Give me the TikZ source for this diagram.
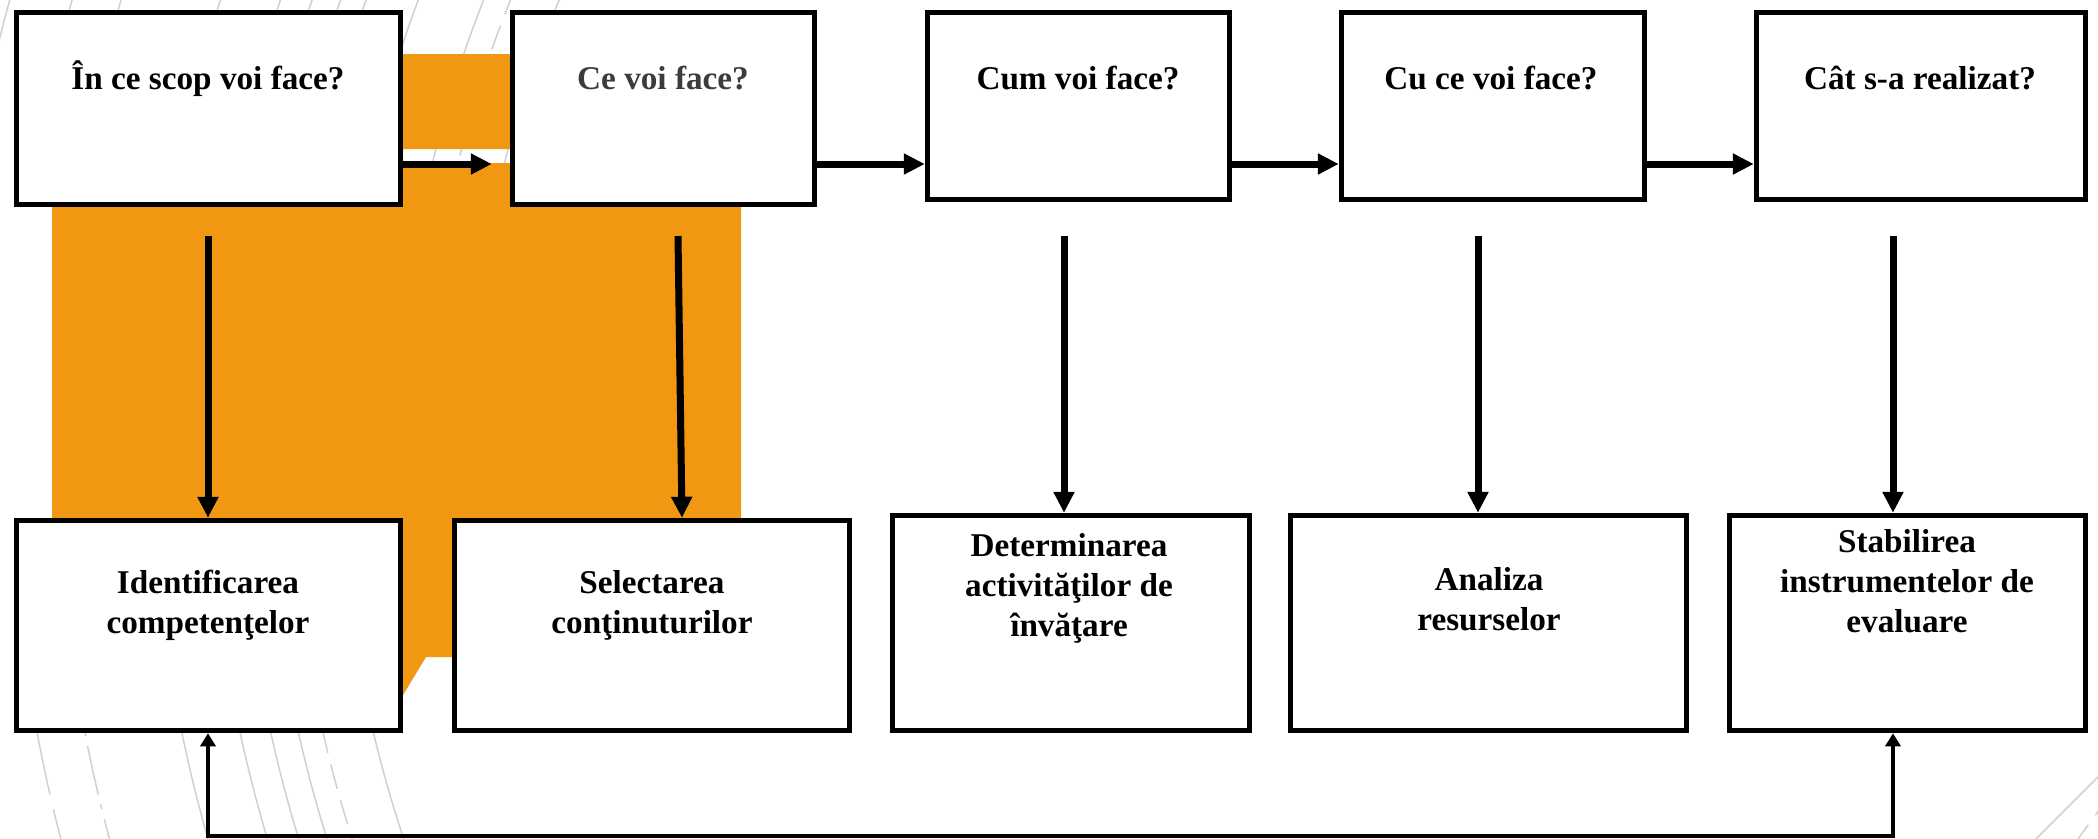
\documentclass[tikz,border=0pt]{standalone}
\usepackage{fontspec}
\setmainfont{Liberation Serif}
\usepackage{tikz}
\usetikzlibrary{calc, arrows.meta}

\definecolor{bubble}{RGB}{241,151,17}
\definecolor{decoline}{RGB}{208,208,208}
\definecolor{softtext}{RGB}{60,60,60}

\tikzset{
	box/.style = {draw, line width = 0.55mm, fill = white, inner sep = 0pt},
	txt/.style = {font = \fontsize{9.45}{11.4}\selectfont\bfseries, align = center, inner sep = 0pt},
	flow/.style = {line width = 0.7mm, -{Triangle[length = 2.1mm, width = 2mm]}},
	back/.style = {line width = 0.45mm, {Triangle[length = 1.3mm, width = 1.5mm]}-{Triangle[length = 1.3mm, width = 1.5mm]}},
	deco/.style = {decoline, line width = 0.15mm}
}

\begin{document}
\begin{tikzpicture}[x = 0.1mm, y = -0.1mm]
	\useasboundingbox (0,0) rectangle (2098,838);
	
	\begin{scope}
		\clip (0,0) rectangle (2098,838);
		\foreach \r in {1448, 1391, 1361, 1334, 1261}
			\draw[deco] (1600,440) ++(150:\r) arc [start angle = 150, end angle = 210, radius = \r];
		\draw[deco] (1600,440) ++(193:1650) arc [start angle = 193, end angle = 210, radius = 1650];
		\draw[deco, dash pattern = on 8mm off 1.5mm] (1600,440) ++(150:1590) arc [start angle = 150, end angle = 170, radius = 1590];
		\draw[deco, dash pattern = on 8mm off 1.5mm] (1600,440) ++(195:1590) arc [start angle = 195, end angle = 210, radius = 1590];
		\draw[deco, dash pattern = on 5mm off 1mm on 0.5mm off 1mm] (1600,440) ++(150:1543) arc [start angle = 150, end angle = 170, radius = 1543];
		\draw[deco, dash pattern = on 5mm off 1mm on 0.5mm off 1mm] (1600,440) ++(195:1543) arc [start angle = 195, end angle = 210, radius = 1543];
		\draw[deco, dash pattern = on 2.5mm off 1.2mm] (1600,440) ++(150:1310) arc [start angle = 150, end angle = 210, radius = 1310];
		\draw[deco] (1600,440) ++(185:1200) arc [start angle = 185, end angle = 210, radius = 1200];
		\draw[deco, dash pattern = on 2.5mm off 1.2mm] (1600,440) ++(185:1175) arc [start angle = 185, end angle = 210, radius = 1175];
		\draw[deco] (1600,440) ++(185:1130) arc [start angle = 185, end angle = 210, radius = 1130];
		\draw[deco] (2110,765) -- (2025,850);
		\draw[deco, dash pattern = on 2.5mm off 1.2mm] (2110,795) -- (2070,850);
	\end{scope}
	
	\fill[bubble, even odd rule] (52,54) -- (741,54) -- (741,657) -- (426,657) -- (388,720) -- (300,657) -- (52,657) -- cycle
		(403,149) rectangle (510,163);
	
	\node[box, minimum width = 38.4mm, minimum height = 19.2mm] (q1) at (208.5,108.5) {};
	\node[box, minimum width = 30.2mm, minimum height = 19.2mm] (q2) at (663.5,108.5) {};
	\node[box, minimum width = 30.2mm, minimum height = 18.7mm] (q3) at (1078.5,106) {};
	\node[box, minimum width = 30.3mm, minimum height = 18.7mm] (q4) at (1493,106) {};
	\node[box, minimum width = 32.9mm, minimum height = 18.7mm] (q5) at (1921,106) {};
	
	\node[txt, anchor = base] (t1) at (208,89) {În ce scop voi face?};
	\node[txt, anchor = base, text = softtext] (t2) at (663,89) {Ce voi face?};
	\node[txt, anchor = base] (t3) at (1078,89) {Cum voi face?};
	\node[txt, anchor = base] (t4) at (1491,89) {Cu ce voi face?};
	\node[txt, anchor = base] (t5) at (1920,89) {Cât s-a realizat?};
	
	\node[box, minimum width = 38.4mm, minimum height = 21mm] (a1) at (208.5,625.5) {};
	\node[box, minimum width = 39.5mm, minimum height = 21mm] (a2) at (652,625.5) {};
	\node[box, minimum width = 35.7mm, minimum height = 21.5mm] (a3) at (1071,623) {};
	\node[box, minimum width = 39.6mm, minimum height = 21.5mm] (a4) at (1488.5,623) {};
	\node[box, minimum width = 35.6mm, minimum height = 21.5mm] (a5) at (1907.5,623) {};
	
	\node[txt] (b1) at (208,605) {Identificarea\\competenţelor};
	\node[txt] (b2) at (652,605) {Selectarea\\conţinuturilor};
	\node[txt] (b3) at (1069,588) {Determinarea\\activităţilor de\\învăţare};
	\node[txt] (b4) at (1489,599) {Analiza\\resurselor};
	\node[txt] (b5) at (1907,581) {Stabilirea\\instrumentelor de\\evaluare};
	
	\coordinate (row) at (0,164);
	\draw[flow, shorten >= 1.8mm] (q1.east |- row) -- (q2.west |- row);
	\draw[flow] (q2.east |- row) -- (q3.west |- row);
	\draw[flow] (q3.east |- row) -- (q4.west |- row);
	\draw[flow] (q4.east |- row) -- (q5.west |- row);
	
	\coordinate (d1) at (208,236);
	\coordinate (d2) at (678,236);
	\coordinate (d3) at (1064,236);
	\coordinate (d4) at (1478,236);
	\coordinate (d5) at (1893,236);
	\draw[flow] (d1) -- (d1 |- a1.north);
	\draw[flow] (d2) -- ($(d2 |- a2.north) + (4,0)$);
	\draw[flow] (d3) -- (d3 |- a3.north);
	\draw[flow] (d4) -- (d4 |- a4.north);
	\draw[flow] (d5) -- (d5 |- a5.north);
	
	\coordinate (f1) at (208,836);
	\coordinate (f5) at (1893,836);
	\draw[back] (f1 |- a1.south) -- (f1) -- (f5) -- (f5 |- a5.south);
\end{tikzpicture}
\end{document}
